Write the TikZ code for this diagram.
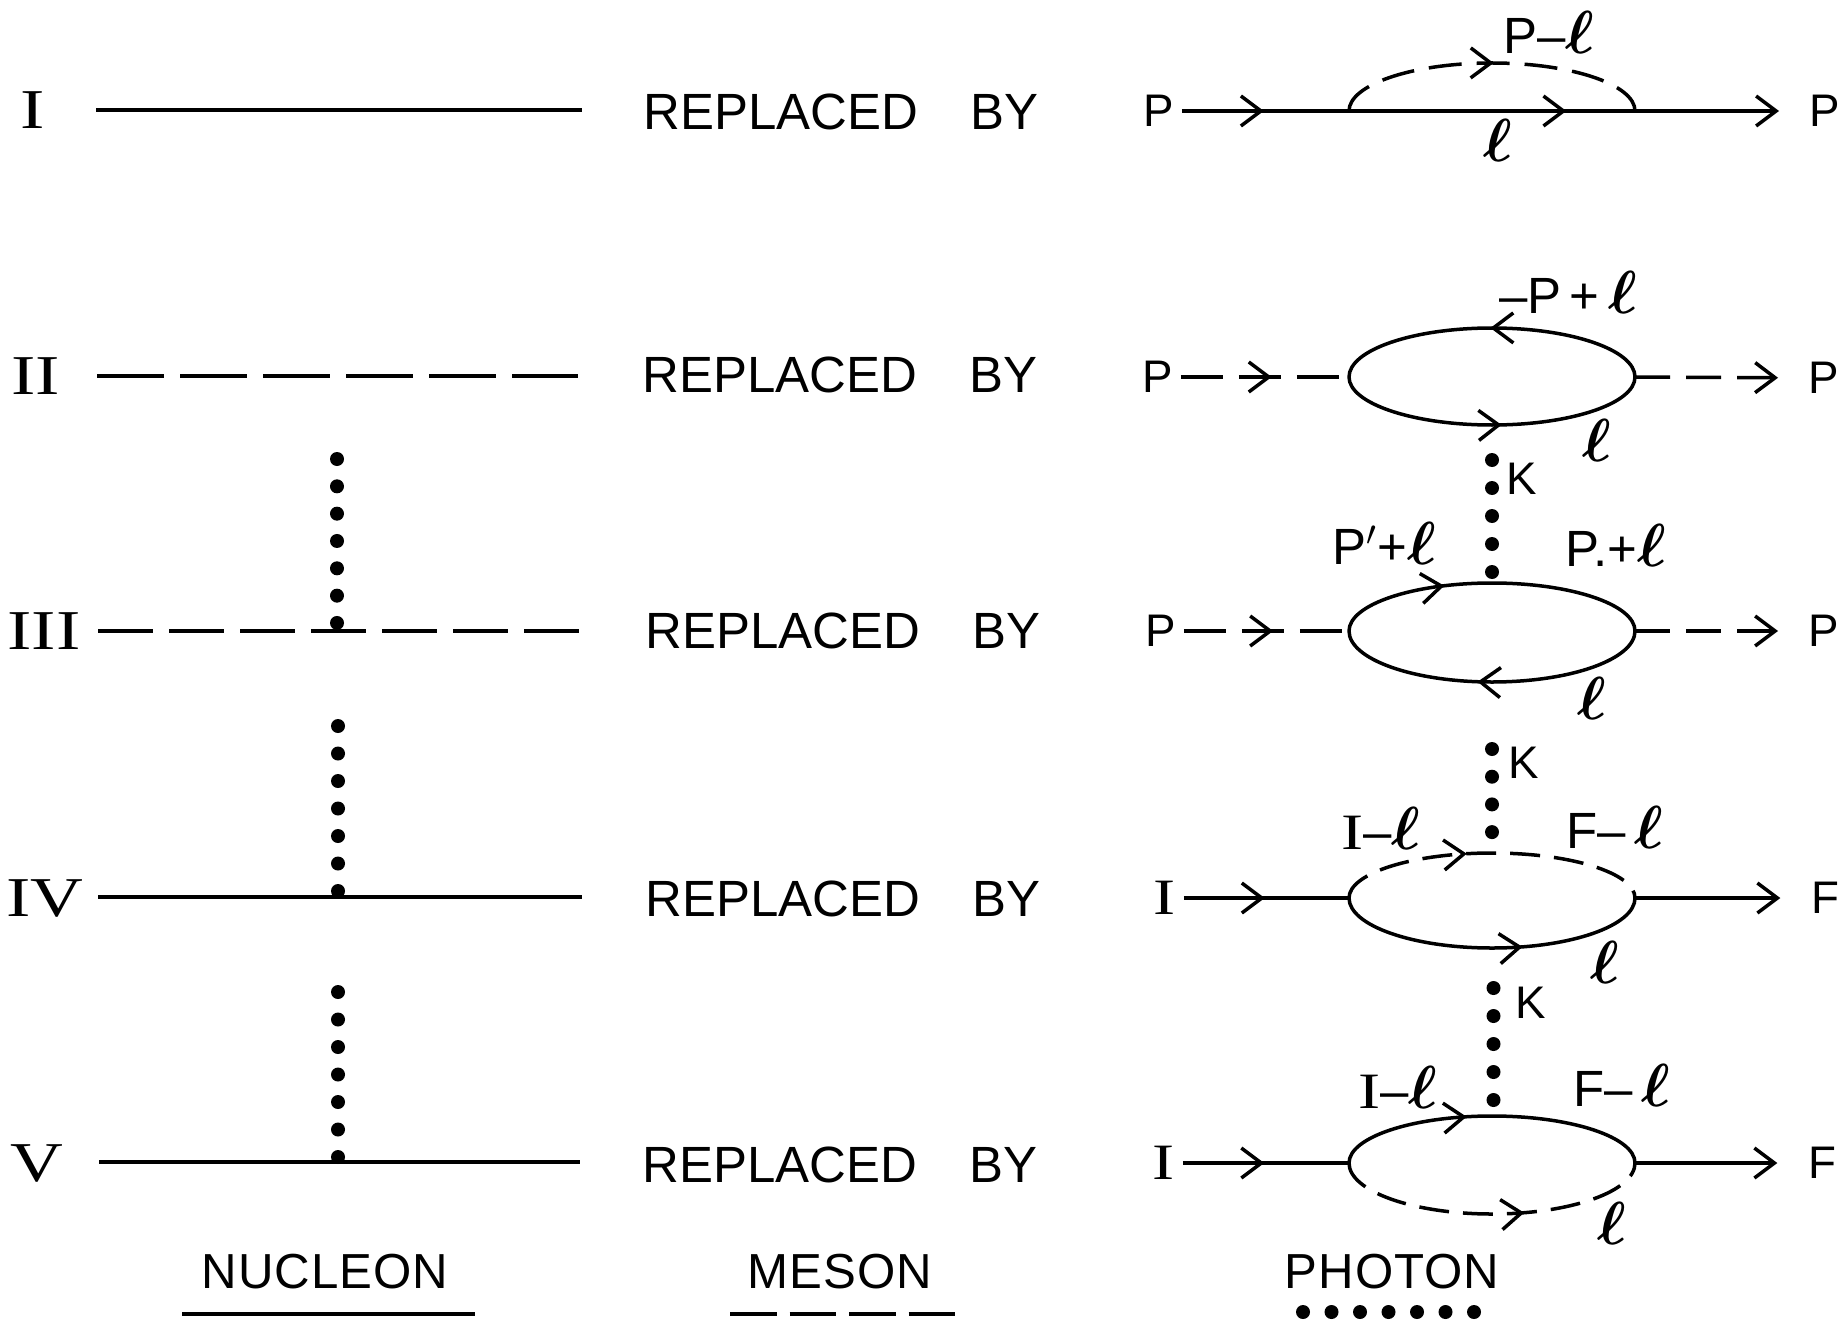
\documentclass[tikz,border=0pt]{standalone}
\usepackage{fontspec}
\setmainfont{Liberation Sans}
\newfontfamily\romanfont[FakeStretch=1.3]{Liberation Serif}
\usetikzlibrary{arrows.meta,decorations.markings}
\newcommand{\ellbig}{{\fontsize{18}{20}\selectfont\boldmath$\ell$}}
\tikzset{
  >={Straight Barb[length=.2cm,width=.3cm]},
  nucleon/.style={line width=.035cm},
  meson/.style={line width=.035cm,dash pattern=on #1cm off .16cm},
  photon/.style={line width=.14cm,line cap=round,dash pattern=on 0cm off #1cm},
  tipat/.style={postaction={decorate,decoration={markings,mark=at position #1 with {\arrow{>}}}}},
  outline/.style={->,shorten >=.23cm},
  lettering/.style={font=\fontsize{14.5}{16}\selectfont,inner sep=0pt,anchor=west},
  caption/.style={font=\fontsize{14}{16}\selectfont\addfontfeature{LetterSpace=2},inner sep=0pt},
  mom/.style={font=\fontsize{13}{15}\selectfont,inner sep=2pt},
  momsum/.style={font=\fontsize{14.5}{16}\selectfont,inner sep=2pt},
  rownum/.style={font=\fontsize{16}{18}\selectfont\romanfont,inner sep=0pt},
  endnum/.style={font=\fontsize{14.5}{16}\selectfont\romanfont,inner sep=2pt}
}
\begin{document}
\begin{tikzpicture}
\useasboundingbox (0,0) rectangle (18.45,13.21);
% left column
\node[rownum] (numI) at (.33,12.11) {I};
\node[rownum] (numII) at (.36,9.45) {II};
\node[rownum] (numIII) at (.44,6.90) {III};
\node[rownum] (numIV) at (.45,4.22) {IV};
\node[rownum] (numV) at (.37,1.57) {V};
\coordinate (l1) at (.96,12.11); \coordinate (r1) at (5.82,12.11);
\coordinate (l2) at (.97,9.45); \coordinate (r2) at (5.78,9.45);
\coordinate (l3) at (.98,6.90); \coordinate (r3) at (5.80,6.90);
\coordinate (l4) at (.98,4.24); \coordinate (r4) at (5.82,4.24);
\coordinate (l5) at (.99,1.59); \coordinate (r5) at (5.80,1.59);
\draw[nucleon] (l1)--(r1);
\draw[meson=.67] (l2)--(r2);
\draw[meson=.55] (l3)--(r3);
\draw[nucleon] (l4)--(r4);
\draw[nucleon] (l5)--(r5);
\coordinate (k3a) at (3.37,8.62); \coordinate (k3b) at (3.37,6.96);
\coordinate (k4a) at (3.38,5.95); \coordinate (k4b) at (3.38,4.28);
\coordinate (k5a) at (3.38,3.29); \coordinate (k5b) at (3.38,1.62);
\draw[photon=.2733] (k3a)--(k3b);
\draw[photon=.275] (k4a)--(k4b);
\draw[photon=.275] (k5a)--(k5b);
% middle column
\node[lettering] (rep1) at (6.43,12.09) {REPLACED\ \hspace{.38cm}BY};
\node[lettering] (rep2) at (6.42,9.46) {REPLACED\ \hspace{.38cm}BY};
\node[lettering] (rep3) at (6.45,6.90) {REPLACED\ \hspace{.38cm}BY};
\node[lettering] (rep4) at (6.45,4.22) {REPLACED\ \hspace{.38cm}BY};
\node[lettering] (rep5) at (6.42,1.56) {REPLACED\ \hspace{.38cm}BY};
% row I
\node[mom] (p1) at (11.59,12.10) {P};
\node[mom] (q1) at (18.25,12.10) {P};
\coordinate (a1) at (13.49,12.10); \coordinate (b1) at (16.35,12.10);
\draw[nucleon,tipat=.49] (p1)--(a1);
\draw[nucleon,tipat=.76] (a1)--(b1);
\draw[nucleon,outline] (b1)--(q1);
\draw[line width=.035cm,dash pattern=on .33cm off .15cm,tipat=.505] (a1) arc[start angle=180,end angle=0,x radius=1.43,y radius=.48];
\node[momsum] (m1) at (15.49,12.89) {P--\ellbig};
\node[mom] (n1) at (14.98,11.81) {\ellbig};
% row II
\node[mom] (p2) at (11.58,9.44) {P};
\node[mom] (q2) at (18.24,9.43) {P};
\coordinate (a2) at (13.49,9.44); \coordinate (b2) at (16.35,9.44);
\draw[meson=.42,tipat=.54] (p2)--(a2);
\draw[meson=.35,outline] (b2)--(q2);
\draw[nucleon,tipat=.505] (b2) arc[start angle=0,end angle=180,x radius=1.43,y radius=.49];
\draw[nucleon,tipat=.53] (a2) arc[start angle=180,end angle=360,x radius=1.43,y radius=.48];
\node[momsum] (m2) at (15.68,10.29) {--P\,+\,\ellbig};
\node[mom] (n2) at (15.97,8.81) {\ellbig};
\coordinate (ph2a) at (14.92,8.61); \coordinate (ph2b) at (14.92,7.47);
\draw[photon=.28] (ph2a)--(ph2b);
\node[mom] (k2) at (15.22,8.42) {K};
% row III
\node[mom] (p3) at (11.61,6.90) {P};
\node[mom] (q3) at (18.24,6.90) {P};
\coordinate (a3) at (13.49,6.90); \coordinate (b3) at (16.35,6.90);
\draw[meson=.42,tipat=.54] (p3)--(a3);
\draw[meson=.35,outline] (b3)--(q3);
\draw[nucleon,tipat=.35] (a3) arc[start angle=180,end angle=0,x radius=1.43,y radius=.48];
\draw[nucleon,tipat=.545] (b3) arc[start angle=0,end angle=-180,x radius=1.43,y radius=.51];
\node[momsum] (m3) at (13.84,7.78) {P$'$+\ellbig};
\node[momsum] (n3) at (16.16,7.76) {P.+\ellbig};
\node[mom] (o3) at (15.92,6.23) {\ellbig};
\coordinate (ph3a) at (14.92,5.72); \coordinate (ph3b) at (14.92,4.87);
\draw[photon=.277] (ph3a)--(ph3b);
\node[mom] (k3) at (15.24,5.58) {K};
% row IV
\node[endnum] (p4) at (11.65,4.23) {I};
\node[mom] (q4) at (18.25,4.23) {F};
\coordinate (a4) at (13.49,4.23); \coordinate (b4) at (16.35,4.23);
\draw[nucleon,tipat=.49] (p4)--(a4);
\draw[nucleon,outline] (b4)--(q4);
\draw[line width=.035cm,dash pattern=on .3cm off .14cm,tipat=.42] (a4) arc[start angle=180,end angle=0,x radius=1.43,y radius=.45];
\draw[nucleon,tipat=.595] (a4) arc[start angle=180,end angle=360,x radius=1.43,y radius=.50];
\node[momsum] (m4) at (13.81,4.93) {{\romanfont I}--\ellbig};
\node[momsum] (n4) at (16.15,4.94) {F--\,\ellbig};
\node[mom] (o4) at (16.05,3.59) {\ellbig};
\coordinate (ph4a) at (14.935,3.33); \coordinate (ph4b) at (14.935,2.19);
\draw[photon=.28] (ph4a)--(ph4b);
\node[mom] (k4) at (15.31,3.18) {K};
% row V
\node[endnum] (p5) at (11.64,1.58) {I};
\node[mom] (q5) at (18.22,1.58) {F};
\coordinate (a5) at (13.49,1.58); \coordinate (b5) at (16.35,1.58);
\draw[nucleon,tipat=.49] (p5)--(a5);
\draw[nucleon,outline] (b5)--(q5);
\draw[nucleon,tipat=.42] (a5) arc[start angle=180,end angle=0,x radius=1.43,y radius=.47];
\draw[line width=.035cm,dash pattern=on .3cm off .14cm,tipat=.60] (a5) arc[start angle=180,end angle=360,x radius=1.43,y radius=.51];
\node[momsum] (m5) at (13.98,2.34) {{\romanfont I}--\ellbig};
\node[momsum] (n5) at (16.22,2.36) {F--\,\ellbig};
\node[mom] (o5) at (16.12,.98) {\ellbig};
% captions
\node[caption] (cap1) at (3.25,.49) {NUCLEON};
\node[caption] (cap2) at (8.40,.49) {MESON};
\node[caption] (cap3) at (13.92,.49) {PHOTON};
\coordinate (u1a) at (1.82,.07); \coordinate (u1b) at (4.75,.07);
\coordinate (u2a) at (7.30,.07); \coordinate (u2b) at (9.55,.07);
\coordinate (u3a) at (13.03,.09); \coordinate (u3b) at (14.76,.09);
\draw[nucleon] (u1a)--(u1b);
\draw[line width=.035cm,dash pattern=on .465cm off .13cm] (u2a)--(u2b);
\draw[photon=.285] (u3a)--(u3b);
\end{tikzpicture}
\end{document}
